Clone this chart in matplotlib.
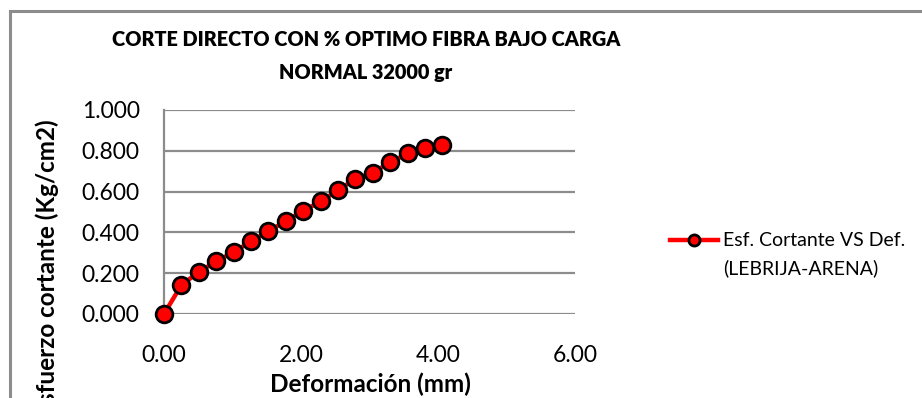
import matplotlib
matplotlib.use("Agg")
import matplotlib.pyplot as plt
from matplotlib.lines import Line2D
from matplotlib.patches import Rectangle

deformacion = [0.0, 0.254, 0.508, 0.762, 1.016, 1.270, 1.524, 1.778, 2.032,
               2.286, 2.540, 2.794, 3.048, 3.302, 3.556, 3.810, 4.064]
esfuerzo = [0.000, 0.142, 0.206, 0.258, 0.304, 0.356, 0.405, 0.456, 0.506,
            0.552, 0.606, 0.663, 0.693, 0.743, 0.787, 0.815, 0.830]
x_ticks = [0, 2, 4, 6]
y_ticks = [0.0, 0.2, 0.4, 0.6, 0.8, 1.0]
title = "CORTE DIRECTO CON % OPTIMO FIBRA BAJO CARGA\nNORMAL 32000 gr"
series_label = ["Esf. Cortante VS Def.", "(LEBRIJA-ARENA)"]

plt.rcParams['font.family'] = ['Lato', 'DejaVu Sans']

W, H = 922, 398
fig = plt.figure(figsize=(W / 100, H / 100), dpi=100)
fig.patch.set_facecolor('white')

# outer chart border (left & top visible)
fig.patches.append(Rectangle((10 / W, -0.1), 1.2, 1 - 11 / H + 0.1,
                             transform=fig.transFigure, fill=False,
                             edgecolor='#8c8c8c', linewidth=2.2))

L, R, T, B = 164, 575, 110, 314
ax = fig.add_axes([L / W, 1 - B / H, (R - L) / W, (B - T) / H])
ax.plot(deformacion, esfuerzo, color='#ff0000', linewidth=3.2, marker='o',
        markersize=12, markerfacecolor='#ff0000', markeredgecolor='black',
        markeredgewidth=2.0, clip_on=False, zorder=5)
ax.set_xlim(0, 6)
ax.set_ylim(0, 1)
ax.set_xticks(x_ticks)
ax.set_xticklabels([f"{v:.2f}" for v in x_ticks])
ax.set_yticks(y_ticks)
ax.set_yticklabels([f"{v:.3f}" for v in y_ticks])
ax.yaxis.grid(True, color='#8c8c8c', linewidth=1.6)
ax.set_axisbelow(True)
for s in ['top', 'right', 'bottom']:
    ax.spines[s].set_visible(False)
ax.spines['left'].set_color('#8c8c8c')
ax.spines['left'].set_linewidth(1.6)
ax.tick_params(axis='both', length=0, labelsize=16.5, colors='black')
ax.tick_params(axis='y', pad=17.5)
ax.tick_params(axis='x', pad=22)

fig.text(366 / W, 1 - 30 / H, title, ha='center', va='top', fontsize=14.3,
         fontweight='heavy', linespacing=1.86)
fig.text(370 / W, 1 - 384 / H, "Deformación (mm)", ha='center', va='center',
         fontsize=17.5, fontweight='bold')
fig.text(47 / W, 1 - 119 / H, "Esfuerzo cortante (Kg/cm2)", ha='center',
         va='top', rotation=90, fontsize=17.5, fontweight='bold')

handle = Line2D([], [], color='#ff0000', linewidth=3.2, marker='o',
                markersize=8, markerfacecolor='#ff0000',
                markeredgecolor='black', markeredgewidth=2.0)
leg = fig.legend([handle], [series_label[0]], loc='center left',
                 bbox_to_anchor=(660 / W, 1 - 241 / H), frameon=False,
                 fontsize=14, handlelength=2.5, handletextpad=0.25,
                 borderpad=0)
fig.canvas.draw()
txt_bb = leg.get_texts()[0].get_window_extent()
fig.text(txt_bb.x0 / W, 1 - 268 / H, series_label[1], ha='left',
         va='center', fontsize=14)

fig.savefig("out.png", dpi=100, facecolor='white')
